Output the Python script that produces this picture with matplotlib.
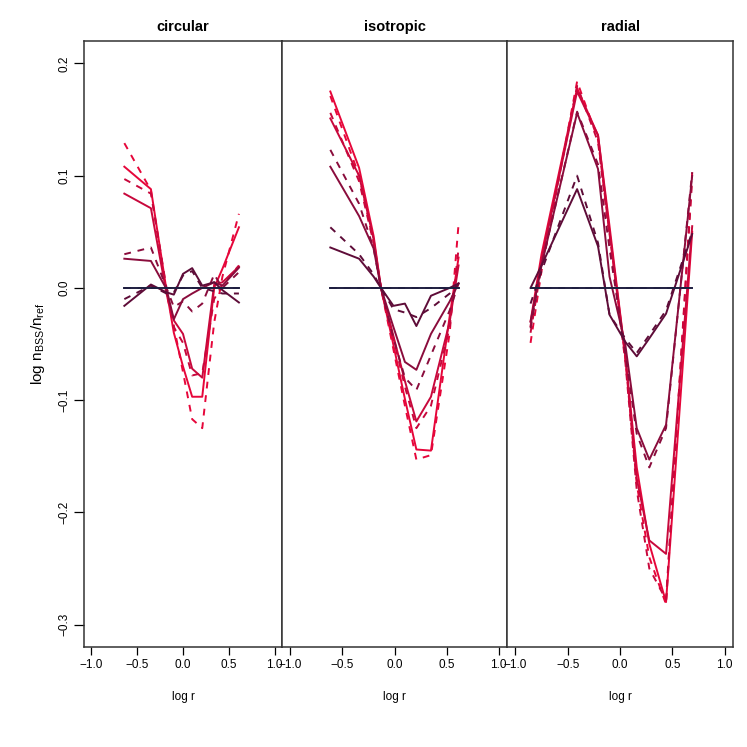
import numpy as np
import matplotlib
matplotlib.use("Agg")
import matplotlib.pyplot as plt

plt.rcParams['font.family'] = ['Liberation Sans', 'DejaVu Sans']

panels = ["circular", "isotropic", "radial"]

# log r bins per panel
x_circ = [-0.64, -0.35, -0.18, -0.10, 0.0, 0.10, 0.21, 0.34, 0.43, 0.61]
x_iso = [-0.616, -0.34, -0.20, -0.13, -0.01, 0.10, 0.21, 0.35, 0.53, 0.615]
x_rad = [-0.855, -0.75, -0.41, -0.21, -0.10, 0.05, 0.16, 0.28, 0.44, 0.69]

# circular: (solid, dashed) per level, level 0 is the reference
circ_l0 = ([0] * 10, [0] * 10)
circ_l1 = ([-0.016, 0.003, -0.004, -0.006, 0.0125, 0.0176, 0.002, 0.005, -0.002, -0.013],
           [-0.010, 0.002, -0.005, -0.004, 0.011, 0.015, 0.000, -0.003, -0.005, -0.005])
circ_l2 = ([0.026, 0.024, -0.001, -0.028, -0.010, -0.005, 0.000, 0.005, 0.002, 0.018],
           [0.030, 0.036, 0.000, -0.017, -0.012, -0.021, -0.014, 0.012, 0.000, 0.014])
circ_l3 = ([0.084, 0.071, -0.005, -0.029, -0.041, -0.072, -0.080, 0.003, 0.005, 0.019],
           [0.097, 0.084, 0.000, -0.035, -0.049, -0.078, -0.076, -0.010, 0.003, 0.020])
circ_l4 = ([0.108, 0.088, -0.002, -0.040, -0.070, -0.097, -0.097, 0.000, 0.017, 0.054],
           [0.129, 0.087, -0.005, -0.034, -0.075, -0.117, -0.125, -0.031, 0.010, 0.066])

iso_l0 = ([0] * 10, [0] * 10)
iso_l1 = ([0.036, 0.026, 0.010, 0.0, -0.016, -0.014, -0.034, -0.007, 0.000, 0.004],
          [0.054, 0.030, 0.012, 0.0, -0.019, -0.022, -0.026, -0.018, -0.005, 0.004])
iso_l2 = ([0.108, 0.064, 0.035, 0.0, -0.035, -0.066, -0.073, -0.041, -0.012, 0.004],
          [0.123, 0.075, 0.035, 0.0, -0.045, -0.080, -0.091, -0.060, -0.020, 0.004])
iso_l3 = ([0.151, 0.100, 0.043, 0.0, -0.043, -0.083, -0.119, -0.097, -0.030, 0.020],
          [0.156, 0.095, 0.040, 0.0, -0.045, -0.088, -0.125, -0.105, -0.035, 0.035])
iso_l4 = ([0.175, 0.107, 0.046, 0.0, -0.051, -0.099, -0.144, -0.145, -0.025, 0.027],
          [0.171, 0.100, 0.040, 0.0, -0.055, -0.105, -0.153, -0.149, -0.040, 0.057])

rad_l0 = ([0] * 10, [0] * 10)
rad_l1 = ([0.000, 0.020, 0.088, 0.037, -0.024, -0.048, -0.061, -0.045, -0.023, 0.048],
          [-0.014, 0.015, 0.100, 0.040, -0.024, -0.045, -0.058, -0.042, -0.020, 0.050])
rad_l2 = ([-0.030, 0.020, 0.156, 0.106, 0.010, -0.050, -0.125, -0.153, -0.122, 0.100],
          [-0.036, 0.020, 0.157, 0.110, 0.035, -0.058, -0.130, -0.160, -0.125, 0.103])
rad_l3 = ([-0.034, 0.025, 0.175, 0.136, 0.050, -0.060, -0.170, -0.225, -0.237, 0.055],
          [-0.040, 0.020, 0.180, 0.130, 0.045, -0.065, -0.180, -0.250, -0.278, 0.097])
rad_l4 = ([-0.030, 0.030, 0.178, 0.136, 0.055, -0.060, -0.160, -0.228, -0.280, 0.050],
          [-0.049, 0.015, 0.184, 0.132, 0.048, -0.062, -0.175, -0.240, -0.282, 0.103])

level_colors = ['#1e1e40', '#5e0c38', '#8a0c3c', '#c8083c', '#e6063a']

xticks = [-1.0, -0.5, 0.0, 0.5, 1.0]
yticks = [-0.3, -0.2, -0.1, 0.0, 0.1, 0.2]

data = [
    (x_circ, [circ_l0, circ_l1, circ_l2, circ_l3, circ_l4]),
    (x_iso, [iso_l0, iso_l1, iso_l2, iso_l3, iso_l4]),
    (x_rad, [rad_l0, rad_l1, rad_l2, rad_l3, rad_l4]),
]


def fmt(t):
    return ("%.1f" % t).replace("-", "\u2212")


W = 747.0
# panel boxes in pixels: left, right
boxes = [(84, 282), (282, 507), (507, 733)]
top_px, bot_px = 41, 647

fig = plt.figure(figsize=(7.47, 7.47), dpi=100)

for i, (name, (xs, levels)) in enumerate(zip(panels, data)):
    l, r = boxes[i]
    ax = fig.add_axes([l / W, (W - bot_px) / W, (r - l) / W, (bot_px - top_px) / W])
    # draw from red (back) to reference (front)
    for k in range(len(levels) - 1, -1, -1):
        solid, dashed = levels[k]
        c = level_colors[k]
        ax.plot(xs, dashed, color=c, lw=1.4, ls=(0, (3.5, 3.5)))
        ax.plot(xs, solid, color=c, lw=1.4, ls='-')
    ax.set_xlim(-1.08, 1.08)
    ax.set_ylim(-0.32, 0.22)
    ax.set_xticks(xticks)
    ax.set_xticklabels([fmt(t) for t in xticks])
    ax.tick_params(axis='x', length=6, width=0.9, pad=3, labelsize=8.5)
    if i == 0:
        ax.set_yticks(yticks)
        ax.set_yticklabels([fmt(t) for t in yticks], rotation=90, va='center')
        ax.tick_params(axis='y', length=7, width=0.9, pad=3, labelsize=8.5)
        ax.set_ylabel(r"log n$_{\mathregular{BSS}}$/n$_{\mathregular{ref}}$", fontsize=11, labelpad=8)
    else:
        ax.set_yticks([])
    for s in ax.spines.values():
        s.set_linewidth(1.1)
        s.set_color('#333333')
    ax.set_title(name, fontsize=10.5, fontweight='bold', pad=7)
    ax.set_xlabel("log r", fontsize=8.5, labelpad=14)

fig.savefig("out.png", dpi=100)
